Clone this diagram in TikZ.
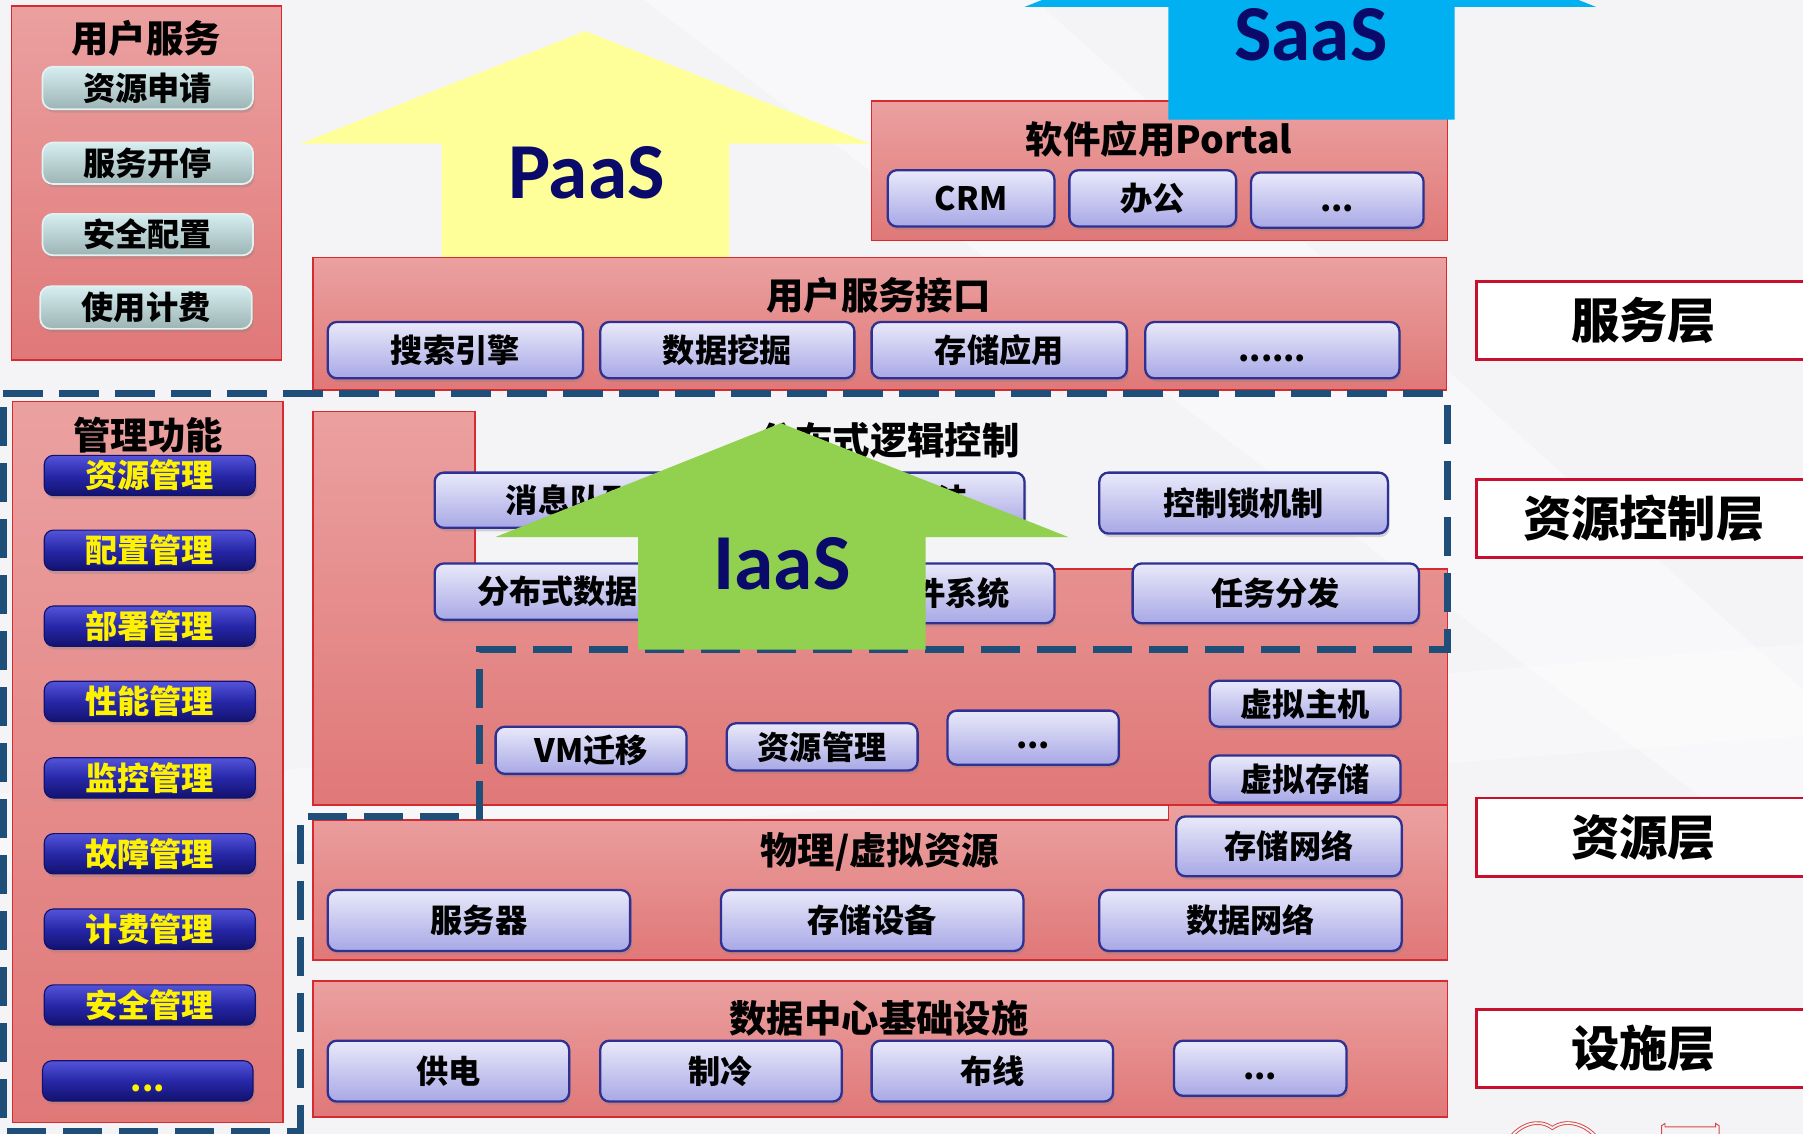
\documentclass[tikz,border=0pt]{standalone}
\usepackage{fontspec}
\newfontfamily\cjk{Noto Sans CJK SC}[BoldFont={Noto Sans CJK SC Black}]
\newfontfamily\calib{Carlito}
\usetikzlibrary{shadows}
\definecolor{bg}{HTML}{F4F4F6}
\definecolor{pinktop}{HTML}{EBA0A0}
\definecolor{pinkbot}{HTML}{E07878}
\definecolor{boxred}{HTML}{D42A30}
\definecolor{lavtop}{HTML}{E9E9FA}
\definecolor{lavbot}{HTML}{A8A8E6}
\definecolor{lavline}{HTML}{2E3192}
\definecolor{cyantop}{HTML}{D6EEF0}
\definecolor{cyanbot}{HTML}{9DB4B5}
\definecolor{cyanline}{HTML}{E2F2F3}
\definecolor{bluetop}{HTML}{5454DA}
\definecolor{bluemid}{HTML}{2727A8}
\definecolor{bluebot}{HTML}{12126E}
\definecolor{dashblue}{HTML}{1F4E79}
\definecolor{paasyel}{HTML}{FFFF99}
\definecolor{iaasgreen}{HTML}{92D050}
\definecolor{saascyan}{HTML}{00B0F0}
\definecolor{navy}{HTML}{0A0A6A}
\definecolor{labred}{HTML}{C8102E}
\definecolor{logored}{HTML}{D84545}
\newcommand\mkbox[7]{\node[#1,minimum width={#5-#3},minimum height={#6-#4}] (#2) at ({(#3+#5)/2},{(#4+#6)/2}) {#7};}
\newcommand\lowdots[1]{\vphantom{用}#1}
\begin{document}
\begin{tikzpicture}[x=1pt,y=-1pt,
 pinkbox/.style={draw=boxred,line width=1.3pt,top color=pinktop,bottom color=pinkbot},
 btnshadow/.style={drop shadow={opacity=0.3,shadow xshift=1.5pt,shadow yshift=-3pt}},
 lav/.style={rounded corners=8pt,draw=lavline,line width=2pt,top color=lavtop,bottom color=lavbot,btnshadow,inner sep=0pt,font=\cjk\bfseries\fontsize{28}{28}\selectfont,text=black},
 cyanbtn/.style={rounded corners=9pt,draw=cyanline,line width=1.5pt,top color=cyantop,bottom color=cyanbot,btnshadow,inner sep=0pt,font=\cjk\bfseries\fontsize{28}{28}\selectfont,text=black},
 bluebtn/.style={rounded corners=8pt,draw=bluebot,line width=1pt,top color=bluetop,bottom color=bluebot,middle color=bluemid,btnshadow,inner sep=0pt,font=\cjk\bfseries\fontsize{28}{28}\selectfont,text=yellow},
 title/.style={font=\cjk\bfseries\fontsize{32.5}{32.5}\selectfont,inner sep=0pt,text=black},
 big/.style={font=\calib\bfseries\fontsize{69}{69}\selectfont,text=navy,inner sep=0pt},
 layer/.style={draw=labred,line width=2.5pt,fill=white,inner sep=0pt,font=\cjk\bfseries\fontsize{42}{42}\selectfont},
 dashline/.style={draw=dashblue,line width=6pt,dash pattern=on 34pt off 14.7pt}
]
\useasboundingbox (0,0) rectangle (1568,986);
\clip (0,0) rectangle (1568,986);
% background
\fill[bg] (0,0) rectangle (1568,986);
\fill[white,opacity=0.45] (560,0) -- (900,0) -- (1568,600) -- (1568,760) -- cycle;
\fill[white,opacity=0.35] (0,690) -- (1568,560) -- (1568,640) -- (0,760) -- cycle;

% PaaS arrow
\fill[paasyel] (509,27) -- (757,125) -- (634,125) -- (634,230) -- (384,230) -- (384,125) -- (261,125) -- cycle;
\node[big] (paas) at (510,150) {PaaS};

% user services
\draw[pinkbox] (10,5) rectangle (245,313);
\node[title] (usrt) at (127,33) {用户服务};
\mkbox{cyanbtn}{u1}{37}{58}{220}{95}{资源申请}
\mkbox{cyanbtn}{u2}{37}{124}{220}{160}{服务开停}
\mkbox{cyanbtn}{u3}{37}{186}{220}{222}{安全配置}
\mkbox{cyanbtn}{u4}{35}{249}{219}{286}{使用计费}

% portal
\draw[pinkbox] (758,88) rectangle (1259,209);
\node[title] (portal) at (1008,121) {软件应用Portal};
\mkbox{lav}{crm}{772}{148}{917}{197}{CRM}
\mkbox{lav}{office}{930}{148}{1075}{197}{办公}
\mkbox{lav}{pdots}{1088}{150}{1238}{198}{\lowdots{...}}

% SaaS arrow
\fill[saascyan] (891,6) -- (1140,-92) -- (1388,6) -- (1265,6) -- (1265,104) -- (1016,104) -- (1016,6) -- cycle;
\node[big] (saas) at (1140,30) {SaaS};

% user service interface
\draw[pinkbox] (272,224) rectangle (1258,339);
\node[title] (usi) at (764,257) {用户服务接口};
\mkbox{lav}{s1}{285}{280}{507}{329}{搜索引擎}
\mkbox{lav}{s2}{522}{280}{743}{329}{数据挖掘}
\mkbox{lav}{s3}{758}{280}{980}{329}{存储应用}
\mkbox{lav}{s4}{996}{280}{1217}{329}{\lowdots{......}}

% resource control region
\draw[pinkbox] (272,358) -- (413,358) -- (413,495) -- (1259,495) -- (1259,700) -- (272,700) -- cycle;
\node[title] (dlc) at (773,383) {分布式逻辑控制};
\mkbox{lav}{c1}{378}{411}{614}{459}{消息队列}
\mkbox{lav}{c2}{653}{411}{891}{459}{一致性算法}
\mkbox{lav}{c3}{956}{411}{1207}{464}{控制锁机制}
\mkbox{lav}{c4}{378}{490}{620}{539}{分布式数据库}
\mkbox{lav}{c5}{643}{490}{917}{542}{分布式文件系统}
\mkbox{lav}{c6}{985}{490}{1234}{542}{任务分发}
\mkbox{lav}{v1}{431}{632}{597}{673}{VM迁移}
\mkbox{lav}{v2}{632}{629}{798}{670}{资源管理}
\mkbox{lav}{v3}{824}{618}{973}{665}{\lowdots{...}}
\mkbox{lav}{v4}{1052}{592}{1218}{632}{虚拟主机}
\mkbox{lav}{v5}{1052}{657}{1218}{698}{虚拟存储}

% physical / virtual resources
\draw[pinkbox] (272,713) -- (1016,713) -- (1016,700) -- (1259,700) -- (1259,835) -- (272,835) -- cycle;
\node[title] (pvr) at (765,741) {物理/虚拟资源};
\mkbox{lav}{r1}{1023}{710}{1219}{762}{存储网络}
\mkbox{lav}{r2}{285}{774}{548}{827}{服务器}
\mkbox{lav}{r3}{627}{774}{890}{827}{存储设备}
\mkbox{lav}{r4}{956}{774}{1219}{827}{数据网络}

% infrastructure
\draw[pinkbox] (272,853) rectangle (1259,971.5);
\node[title] (dci) at (764.5,886) {数据中心基础设施};
\mkbox{lav}{i1}{285}{905}{495}{958}{供电}
\mkbox{lav}{i2}{522}{905}{732}{958}{制冷}
\mkbox{lav}{i3}{758}{905}{968}{958}{布线}
\mkbox{lav}{i4}{1021}{905}{1171}{953}{\lowdots{...}}

% management functions
\draw[pinkbox] (11,349) rectangle (246,976);
\node[title] (mgmt) at (129,378) {管理功能};
\mkbox{bluebtn}{m1}{38.5}{396}{222}{431}{资源管理}
\mkbox{bluebtn}{m2}{38.5}{461}{222}{496}{配置管理}
\mkbox{bluebtn}{m3}{38.5}{527}{222}{562}{部署管理}
\mkbox{bluebtn}{m4}{38.5}{592.5}{222}{627.5}{性能管理}
\mkbox{bluebtn}{m5}{38.5}{659}{222}{694}{监控管理}
\mkbox{bluebtn}{m6}{38.5}{725}{222}{760}{故障管理}
\mkbox{bluebtn}{m7}{38.5}{790.5}{222}{825.5}{计费管理}
\mkbox{bluebtn}{m8}{38.5}{856.5}{222}{891.5}{安全管理}
\mkbox{bluebtn}{m9}{37}{922.5}{220}{957.5}{\lowdots{...}}

% dashed outline
\draw[dashline] (3,342) -- (1259,342) -- (1259,565) -- (417,565) -- (417,710) -- (261,710) -- (261,984) -- (3,984) -- cycle;

% IaaS arrow
\fill[iaasgreen] (679,368) -- (929,467) -- (805,467) -- (805,565) -- (555,565) -- (555,467) -- (431,467) -- cycle;
\node[big] (iaas) at (680,490) {IaaS};

% layer labels
\mkbox{layer}{l1}{1284}{245}{1575}{313}{服务层}
\mkbox{layer}{l2}{1284}{417}{1575}{484.5}{资源控制层}
\mkbox{layer}{l3}{1284}{694}{1575}{762.5}{资源层}
\mkbox{layer}{l4}{1284}{878}{1575}{946}{设施层}

% logo fragment
\draw[logored,line width=0.8pt,double=bg,double distance=1.6pt]
  (1313,990) .. controls (1322,978) and (1338,972) .. (1350,981)
  .. controls (1362,972) and (1380,978) .. (1389,990);
\draw[logored,line width=0.8pt] (1445,990) -- (1445,979) -- (1448,977) -- (1448,980) -- (1492,980) -- (1492,977) -- (1495,979) -- (1495,990);
\end{tikzpicture}
\end{document}
